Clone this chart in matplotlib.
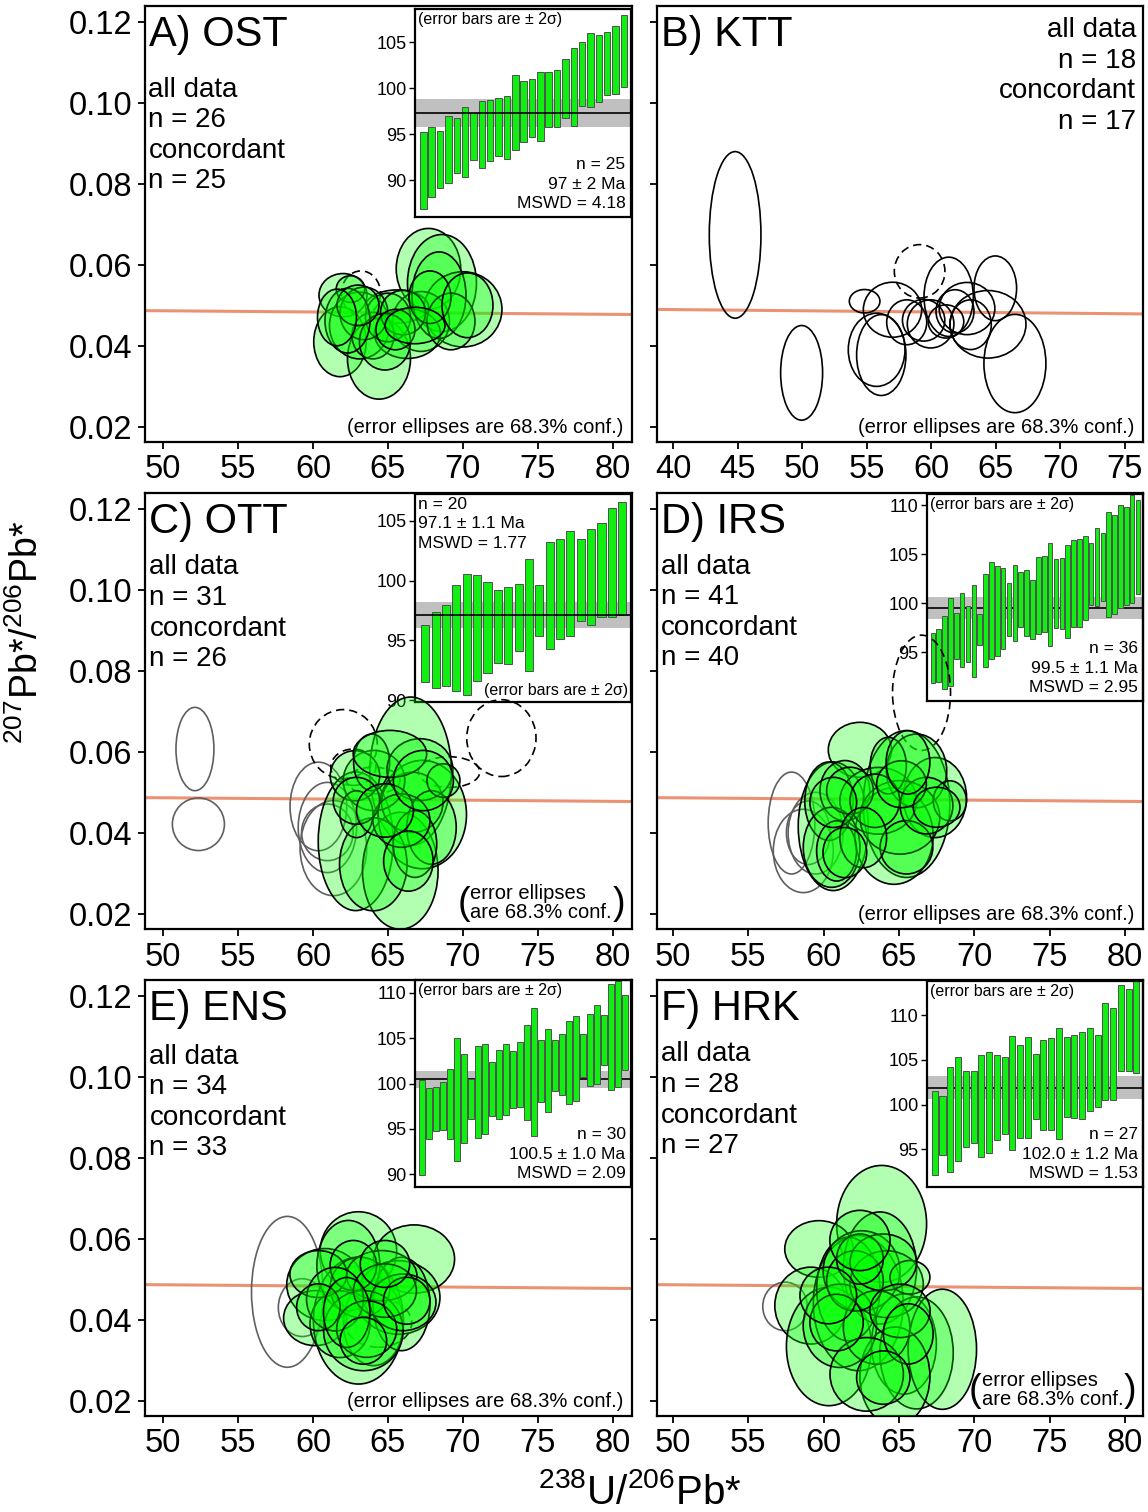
"""
Tera-Wasserburg concordia plots (6 samples) with weighted-mean age insets.
"""
import numpy as np
import matplotlib

matplotlib.use("Agg")
import matplotlib.pyplot as plt  # noqa: E402
from matplotlib.patches import Ellipse  # noqa: E402

plt.rcParams["font.family"] = ["Liberation Sans", "DejaVu Sans"]
plt.rcParams["mathtext.fontset"] = "custom"
plt.rcParams["mathtext.rm"] = "Liberation Sans"

W, H, DPI = 1148, 1512, 100
SALMON = "#EC9274"
BAR_GREEN = "#11EE11"
FILL_GREEN = (0.0, 1.0, 0.0, 0.30)
GRAY_EDGE = "#5f5f5f"

# concordia curve (almost flat over 40-82)
concordia_x = [38.0, 82.0]
concordia_y = [0.0490, 0.0477]

# ellipses: (centre 238U/206Pb, centre 207Pb/206Pb, full width, full height)
A_green = [
    (67.7, 0.0590, 4.3, 0.0200), (68.6, 0.0555, 4.6, 0.0240), (70.0, 0.0490, 5.2, 0.0186),
    (62.0, 0.0525, 3.2, 0.0107), (65.6, 0.0497, 4.2, 0.0082), (61.8, 0.0410, 3.5, 0.0173),
    (64.4, 0.0368, 4.2, 0.0200), (63.1, 0.0450, 4.0, 0.0165), (67.2, 0.0460, 3.8, 0.0148),
    (66.3, 0.0430, 4.4, 0.0123), (64.0, 0.0425, 2.8, 0.0115), (68.4, 0.0525, 3.6, 0.0214),
    (62.5, 0.0540, 1.9, 0.0066), (65.0, 0.0470, 3.0, 0.0120), (63.4, 0.0480, 3.2, 0.0130),
    (66.0, 0.0482, 3.0, 0.0110), (69.2, 0.0460, 3.2, 0.0140), (64.8, 0.0410, 3.4, 0.0140),
    (62.3, 0.0462, 3.0, 0.0160), (67.8, 0.0520, 2.8, 0.0130), (65.5, 0.0440, 2.6, 0.0100),
    (63.0, 0.0500, 2.8, 0.0100), (66.8, 0.0450, 4.0, 0.0090), (61.6, 0.0470, 2.6, 0.0140),
    (70.3, 0.0500, 3.4, 0.0160),
]
A_dashed = [(63.2, 0.0530, 2.6, 0.0110)]

B_outline = [
    (44.81, 0.0674, 4.00, 0.0412), (49.96, 0.0333, 3.25, 0.0234), (54.84, 0.0510, 2.37, 0.0058),
    (57.00, 0.0489, 4.52, 0.0136), (55.77, 0.0390, 4.39, 0.0181), (56.13, 0.0377, 3.82, 0.0200),
    (58.10, 0.0458, 3.10, 0.0111), (59.41, 0.0463, 3.28, 0.0103), (59.95, 0.0454, 3.61, 0.0119),
    (61.35, 0.0521, 3.82, 0.0196), (61.14, 0.0460, 2.76, 0.0082), (61.84, 0.0485, 2.94, 0.0107),
    (62.77, 0.0492, 4.31, 0.0129), (64.96, 0.0542, 3.30, 0.0160), (64.39, 0.0453, 5.89, 0.0167),
    (66.48, 0.0356, 4.80, 0.0243), (63.05, 0.0452, 3.20, 0.0123),
]
B_dashed = [(59.10, 0.0584, 3.92, 0.0132)]

C_gray = [
    (52.13, 0.0607, 2.53, 0.0206), (52.36, 0.0421, 3.47, 0.0130), (60.36, 0.0465, 3.78, 0.0219),
    (60.96, 0.0413, 3.89, 0.0223), (61.36, 0.0362, 4.44, 0.0235), (60.96, 0.0401, 3.44, 0.0140),
]
C_dashed = [
    (62.02, 0.0619, 4.53, 0.0171), (72.56, 0.0634, 4.62, 0.0190), (69.07, 0.0550, 4.10, 0.0076),
    (62.69, 0.0562, 3.00, 0.0090), (64.02, 0.0529, 3.56, 0.0066),
]
C_green = [
    (66.51, 0.0552, 5.44, 0.0367), (62.85, 0.0379, 5.00, 0.0343), (65.82, 0.0306, 5.04, 0.0289),
    (67.29, 0.0445, 5.89, 0.0268), (64.02, 0.0322, 4.50, 0.0230), (66.62, 0.0475, 4.10, 0.0149),
    (64.07, 0.0529, 4.10, 0.0149), (62.80, 0.0541, 3.30, 0.0124), (63.91, 0.0574, 2.40, 0.0140),
    (67.13, 0.0556, 4.40, 0.0153), (65.13, 0.0595, 4.90, 0.0116), (67.90, 0.0413, 3.30, 0.0182),
    (66.80, 0.0372, 2.90, 0.0165), (62.90, 0.0446, 2.20, 0.0116), (65.90, 0.0430, 3.80, 0.0132),
    (62.90, 0.0479, 3.10, 0.0116), (68.70, 0.0529, 2.20, 0.0083), (66.36, 0.0330, 3.30, 0.0149),
    (64.80, 0.0455, 3.80, 0.0132), (67.36, 0.0529, 4.00, 0.0149),
]

D_dashed = [(66.5, 0.0746, 3.85, 0.0285)]
D_gray = [
    (57.87, 0.0424, 3.10, 0.0252), (59.47, 0.0399, 3.65, 0.0202),
    (58.65, 0.0355, 3.98, 0.0206), (58.98, 0.0400, 2.90, 0.0157),
]
D_green = [
    (62.41, 0.0605, 4.20, 0.0136), (60.64, 0.0416, 4.65, 0.0318), (60.35, 0.0478, 3.20, 0.0194),
    (61.41, 0.0504, 3.30, 0.0149), (65.50, 0.0471, 5.75, 0.0363), (67.39, 0.0487, 4.20, 0.0198),
    (64.67, 0.0392, 5.20, 0.0239), (63.63, 0.0479, 5.10, 0.0165), (66.17, 0.0553, 4.00, 0.0182),
    (60.53, 0.0364, 3.76, 0.0198), (65.06, 0.0438, 5.30, 0.0182), (68.38, 0.0479, 2.20, 0.0099),
    (64.29, 0.0566, 2.40, 0.0140), (61.75, 0.0504, 3.10, 0.0116), (60.86, 0.0355, 2.65, 0.0149),
    (65.50, 0.0364, 3.50, 0.0132), (63.40, 0.0479, 3.30, 0.0132), (66.83, 0.0467, 3.50, 0.0140),
    (65.17, 0.0520, 3.30, 0.0116), (60.64, 0.0475, 3.10, 0.0124), (62.63, 0.0388, 3.10, 0.0149),
    (67.50, 0.0463, 3.10, 0.0099), (65.60, 0.0574, 2.90, 0.0157), (61.41, 0.0351, 2.90, 0.0124),
]

E_gray = [(58.29, 0.0469, 4.78, 0.0373), (59.29, 0.0430, 3.20, 0.0143)]
E_dashed = [(64.36, 0.0392, 4.44, 0.0120)]
E_green = [
    (63.03, 0.0570, 5.10, 0.0194), (66.74, 0.0550, 5.40, 0.0169), (60.80, 0.0487, 5.10, 0.0178),
    (60.14, 0.0404, 4.20, 0.0136), (64.03, 0.0392, 4.00, 0.0211), (63.03, 0.0398, 6.00, 0.0314),
    (65.69, 0.0455, 5.55, 0.0182), (62.36, 0.0534, 4.20, 0.0223), (65.90, 0.0439, 3.80, 0.0231),
    (61.80, 0.0389, 4.00, 0.0165), (63.14, 0.0480, 4.00, 0.0149), (64.58, 0.0509, 4.70, 0.0124),
    (60.36, 0.0513, 3.80, 0.0116), (63.36, 0.0373, 5.30, 0.0198), (66.00, 0.0443, 4.40, 0.0140),
    (62.69, 0.0534, 3.10, 0.0124), (61.47, 0.0451, 3.80, 0.0157), (64.80, 0.0472, 4.20, 0.0132),
    (63.58, 0.0377, 4.00, 0.0140), (60.36, 0.0431, 2.90, 0.0116), (66.25, 0.0447, 3.10, 0.0116),
    (62.25, 0.0418, 3.10, 0.0173), (64.80, 0.0538, 3.30, 0.0116), (63.36, 0.0348, 3.10, 0.0116),
]

F_gray = [(57.44, 0.0433, 2.96, 0.0120)]
F_green = [
    (63.85, 0.0637, 5.97, 0.0289), (59.69, 0.0575, 4.54, 0.0140), (59.14, 0.0435, 4.76, 0.0190),
    (60.35, 0.0334, 5.64, 0.0293), (62.30, 0.0441, 5.97, 0.0334), (63.74, 0.0528, 4.87, 0.0277),
    (65.33, 0.0340, 4.31, 0.0248), (66.17, 0.0318, 4.87, 0.0277), (67.88, 0.0327, 4.54, 0.0297),
    (64.73, 0.0260, 4.65, 0.0244), (61.64, 0.0476, 4.20, 0.0256), (62.52, 0.0521, 5.10, 0.0198),
    (61.08, 0.0385, 4.87, 0.0206), (64.18, 0.0488, 4.87, 0.0165), (65.73, 0.0505, 2.65, 0.0083),
    (63.52, 0.0381, 4.42, 0.0182), (62.86, 0.0265, 4.87, 0.0182), (62.08, 0.0496, 3.76, 0.0149),
    (63.96, 0.0542, 4.42, 0.0140), (60.86, 0.0393, 3.54, 0.0140), (65.07, 0.0422, 4.00, 0.0132),
    (62.41, 0.0550, 3.10, 0.0124), (65.62, 0.0365, 3.30, 0.0149), (60.31, 0.0460, 3.76, 0.0140),
    (63.96, 0.0257, 3.54, 0.0132), (62.41, 0.0596, 4.00, 0.0149),
]

# inset ages (Ma): bottom / top of each 2-sigma bar, sorted
A_lo = [86.9, 88.2, 89.2, 89.7, 90.8, 90.3, 92.2, 91.3, 92.1, 92.6, 92.3, 93.3, 94.2,
        94.7, 94.3, 95.8, 95.8, 96.8, 95.9, 98.1, 98.0, 98.5, 99.3, 99.4, 100.1]
A_hi = [95.2, 95.8, 95.3, 97.0, 96.8, 97.9, 97.3, 98.6, 98.7, 98.9, 99.2, 101.4, 100.8,
        101.0, 101.8, 101.8, 102.0, 103.2, 104.4, 105.0, 106.0, 105.8, 106.1, 106.8, 107.9]
C_lo = [91.5, 91.0, 91.2, 90.8, 90.4, 91.6, 92.3, 93.1, 93.0, 94.1, 92.4, 95.4, 94.3,
        95.1, 95.4, 96.6, 96.3, 97.0, 97.0, 97.1]
C_hi = [96.3, 97.4, 98.0, 99.6, 100.6, 100.5, 99.9, 99.2, 99.5, 99.7, 101.8, 99.6, 103.2,
        103.5, 104.2, 103.5, 104.3, 104.8, 106.1, 106.6]
D_lo = [91.8, 91.9, 91.2, 91.5, 94.3, 93.5, 94.0, 92.5, 95.7, 93.5, 94.3, 94.6, 95.3,
        96.6, 96.1, 97.6, 96.6, 96.3, 96.8, 97.0, 95.6, 97.5, 97.4, 96.4, 97.6, 97.6,
        98.3, 99.8, 99.7, 100.2, 98.6, 98.9, 99.5, 99.8, 100.0, 100.9]
D_hi = [96.9, 97.4, 98.7, 100.5, 99.0, 101.0, 99.7, 101.9, 98.9, 103.0, 104.2, 103.8, 103.6,
        102.1, 103.9, 103.2, 103.4, 102.4, 104.7, 104.8, 106.1, 104.5, 104.6, 105.9, 106.5,
        106.6, 106.9, 106.1, 107.7, 107.2, 109.3, 109.0, 110.0, 109.8, 111.0, 110.5]
E_lo = [89.9, 93.9, 94.8, 94.9, 93.9, 91.5, 93.4, 96.1, 94.0, 94.4, 96.4, 96.1, 96.5,
        97.3, 97.4, 96.0, 94.2, 98.0, 96.9, 99.2, 98.7, 97.7, 98.1, 100.7, 99.7, 100.0,
        102.0, 99.3, 99.6, 101.5]
E_hi = [100.4, 99.5, 99.6, 100.2, 101.6, 105.0, 103.3, 100.5, 104.1, 104.3, 102.4, 103.7,
        104.4, 103.6, 104.6, 106.4, 108.3, 104.8, 106.0, 104.8, 105.4, 106.9, 107.4, 105.4,
        107.7, 108.7, 107.6, 111.0, 111.3, 109.7]
F_lo = [92.1, 94.4, 92.5, 93.7, 95.3, 95.7, 94.2, 94.6, 96.0, 96.7, 94.9, 96.3, 96.3,
        98.4, 97.2, 97.2, 96.2, 98.6, 98.5, 98.4, 99.3, 99.7, 100.5, 100.5, 103.7, 103.7, 103.5]
F_hi = [101.5, 101.0, 104.2, 105.3, 103.8, 103.7, 105.5, 105.9, 105.5, 105.3, 107.7, 106.6,
        107.5, 105.7, 107.2, 107.4, 108.6, 107.6, 107.8, 108.1, 108.5, 107.8, 111.3, 110.8,
        113.3, 112.9, 113.8]

# weighted means (Ma) and their band half-widths
A_mean, A_err = 97.3, 1.5
C_mean, C_err = 97.1, 1.08
D_mean, D_err = 99.5, 1.1
E_mean, E_err = 100.45, 0.95
F_mean, F_err = 101.9, 1.25

PANELS = [
    dict(rect=(145, 6, 487, 436), xlim=(48.8, 81.27), xticks=range(50, 81, 5), ylab=True,
         title="A) OST", counts=("26", "25"), cpos=(0.007, 0.838, "left"),
         green=A_green, gray=[], dashed=A_dashed, outline=[], note="line",
         inset=dict(rect=(415, 9, 216, 208), lo=A_lo, hi=A_hi, mean=A_mean, err=A_err,
                    ylim=(86.0, 108.6), yticks=[90, 95, 100, 105], top_line=True,
                    stats="n = 25\n97 ± 2 Ma\nMSWD = 4.18", stats_at="br")),
    dict(rect=(657, 6, 486, 436), xlim=(38.76, 76.4), xticks=range(40, 76, 5), ylab=False,
         title="B) KTT", counts=("18", "17"), cpos=(0.986, 0.975, "right"),
         green=[], gray=[], dashed=B_dashed, outline=B_outline, note="line", inset=None),
    dict(rect=(145, 493, 487, 436), xlim=(48.8, 81.27), xticks=range(50, 81, 5), ylab=True,
         title="C) OTT", counts=("31", "26"), cpos=(0.009, 0.859, "left"),
         green=C_green, gray=C_gray, dashed=C_dashed, outline=[], note="paren",
         inset=dict(rect=(415, 494, 216, 208), lo=C_lo, hi=C_hi, mean=C_mean, err=C_err,
                    ylim=(89.84, 107.26), yticks=[90, 95, 100, 105], top_line=True,
                    stats="n = 20\n97.1 ± 1.1 Ma\nMSWD = 1.77", stats_at="tl")),
    dict(rect=(657, 493, 486, 436), xlim=(48.94, 81.2), xticks=range(50, 81, 5), ylab=False,
         title="D) IRS", counts=("41", "40"), cpos=(0.009, 0.861, "left"),
         green=D_green, gray=D_gray, dashed=D_dashed, outline=[], note="line",
         inset=dict(rect=(927, 494, 216, 207), lo=D_lo, hi=D_hi, mean=D_mean, err=D_err,
                    ylim=(90.0, 111.15), yticks=[95, 100, 105, 110], top_line=False,
                    stats="n = 36\n99.5 ± 1.1 Ma\nMSWD = 2.95", stats_at="br")),
    dict(rect=(145, 980, 487, 436), xlim=(48.8, 81.27), xticks=range(50, 81, 5), ylab=True,
         title="E) ENS", counts=("34", "33"), cpos=(0.009, 0.854, "left"),
         green=E_green, gray=E_gray, dashed=E_dashed, outline=[], note="line",
         inset=dict(rect=(415, 980, 216, 207), lo=E_lo, hi=E_hi, mean=E_mean, err=E_err,
                    ylim=(88.6, 111.4), yticks=[90, 95, 100, 105, 110], top_line=False,
                    stats="n = 30\n100.5 ± 1.0 Ma\nMSWD = 2.09", stats_at="br")),
    dict(rect=(657, 980, 486, 436), xlim=(48.94, 81.2), xticks=range(50, 81, 5), ylab=False,
         title="F) HRK", counts=("28", "27"), cpos=(0.009, 0.859, "left"),
         green=F_green, gray=F_gray, dashed=[], outline=[], note="paren",
         inset=dict(rect=(927, 981, 216, 206), lo=F_lo, hi=F_hi, mean=F_mean, err=F_err,
                    ylim=(90.8, 113.8), yticks=[95, 100, 105, 110], top_line=False,
                    stats="n = 27\n102.0 ± 1.2 Ma\nMSWD = 1.53", stats_at="br")),
]


def px_rect(x, y, w, h):
    return [x / W, 1 - (y + h) / H, w / W, h / H]


def add_ellipses(ax, items, **kw):
    for cx, cy, w, h in items:
        ax.add_patch(Ellipse((cx, cy), w, h, **kw))


def draw_inset(fig, ins):
    n = len(ins["lo"])
    iax = fig.add_axes(px_rect(*ins["rect"]), zorder=1)
    iax.set_facecolor("white")
    lo = np.array(ins["lo"])
    hi = np.array(ins["hi"])
    x = np.arange(n)
    iax.axhspan(ins["mean"] - ins["err"], ins["mean"] + ins["err"], color="#c0c0c0", lw=0, zorder=1)
    iax.bar(x, hi - lo, bottom=lo, width=0.78, color=BAR_GREEN, edgecolor="#505050",
            lw=0.7, zorder=2)
    iax.axhline(ins["mean"], color="black", lw=1.2, zorder=3 if ins["top_line"] else 1.5)
    iax.set_xlim(-1.0, n - 0.15)
    iax.set_ylim(*ins["ylim"])
    iax.set_xticks([])
    iax.set_yticks(ins["yticks"])
    iax.tick_params(axis="y", direction="out", length=4, width=1, pad=2, labelsize=13)
    for s in iax.spines.values():
        s.set_linewidth(1.6)
    fs = 12.5
    if ins["stats_at"] == "br":
        iax.text(0.975, 0.03, ins["stats"], transform=iax.transAxes, ha="right", va="bottom",
                 fontsize=fs, linespacing=1.35, multialignment="right", zorder=5)
        iax.text(0.012, 0.985, "(error bars are ± 2σ)", transform=iax.transAxes,
                 ha="left", va="top", fontsize=11.5, zorder=5)
    else:
        iax.text(0.012, 0.985, ins["stats"], transform=iax.transAxes, ha="left", va="top",
                 fontsize=fs, linespacing=1.35, zorder=5)
        iax.text(0.986, 0.02, "(error bars are ± 2σ)", transform=iax.transAxes,
                 ha="right", va="bottom", fontsize=11.5, zorder=5)


def draw_panel(fig, p):
    ax = fig.add_axes(px_rect(*p["rect"]), zorder=2)
    ax.set_facecolor("none")
    ax.plot(concordia_x, concordia_y, color=SALMON, lw=2.2, zorder=1)
    add_ellipses(ax, p["gray"], fill=False, ec=GRAY_EDGE, lw=1.2, zorder=2)
    add_ellipses(ax, p["outline"], fill=False, ec="black", lw=1.2, zorder=2)
    add_ellipses(ax, p["dashed"], fill=False, ec="black", lw=1.2, ls=(0, (5, 3)), zorder=2.5)
    add_ellipses(ax, p["green"], fc=FILL_GREEN, ec="black", lw=1.2, zorder=3)

    ax.set_xlim(*p["xlim"])
    ax.set_ylim(0.0162, 0.1240)
    ax.set_xticks(list(p["xticks"]))
    yt = [0.02, 0.04, 0.06, 0.08, 0.10, 0.12]
    ax.set_yticks(yt)
    ax.set_yticklabels([f"{v:.2f}" for v in yt])
    ax.tick_params(direction="out", length=5, width=1.3, labelsize=23.5, pad=4,
                   labelleft=p["ylab"])
    for s in ax.spines.values():
        s.set_linewidth(1.6)

    ax.text(0.008, 0.98, p["title"], transform=ax.transAxes, ha="left", va="top", fontsize=30)
    cx, cy, side = p["cpos"]
    ax.text(cx, cy, "all data\nn = %s\nconcordant\nn = %s" % p["counts"], transform=ax.transAxes,
            ha=side, va="top", fontsize=20, linespacing=1.23, multialignment=side)

    if p["note"] == "line":
        ax.text(0.982, 0.012, "(error ellipses are 68.3% conf.)", transform=ax.transAxes,
                ha="right", va="bottom", fontsize=14.5)
    else:
        ax.text(0.668, 0.016, "error ellipses\nare 68.3% conf.", transform=ax.transAxes,
                ha="left", va="bottom", fontsize=14.5, linespacing=1.0)
        ax.text(0.667, 0.058, "(", transform=ax.transAxes, ha="right", va="center",
                fontsize=27)
        ax.text(0.960, 0.058, ")", transform=ax.transAxes, ha="left", va="center",
                fontsize=27)

    if p["inset"] is not None:
        draw_inset(fig, p["inset"])


def main():
    fig = plt.figure(figsize=(W / DPI, H / DPI), dpi=DPI)
    for p in PANELS:
        draw_panel(fig, p)
    fig.text(0.024, 1 - 632 / H, r"$^{\mathregular{207}}$Pb*/$^{\mathregular{206}}$Pb*",
             rotation=90, ha="center", va="center", fontsize=27)
    fig.text(640 / W, 1 - 1504 / H, r"$^{\mathregular{238}}$U/$^{\mathregular{206}}$Pb*",
             ha="center", va="baseline", fontsize=29)
    fig.savefig("out.png", dpi=DPI)
    plt.close(fig)


if __name__ == "__main__":
    main()
